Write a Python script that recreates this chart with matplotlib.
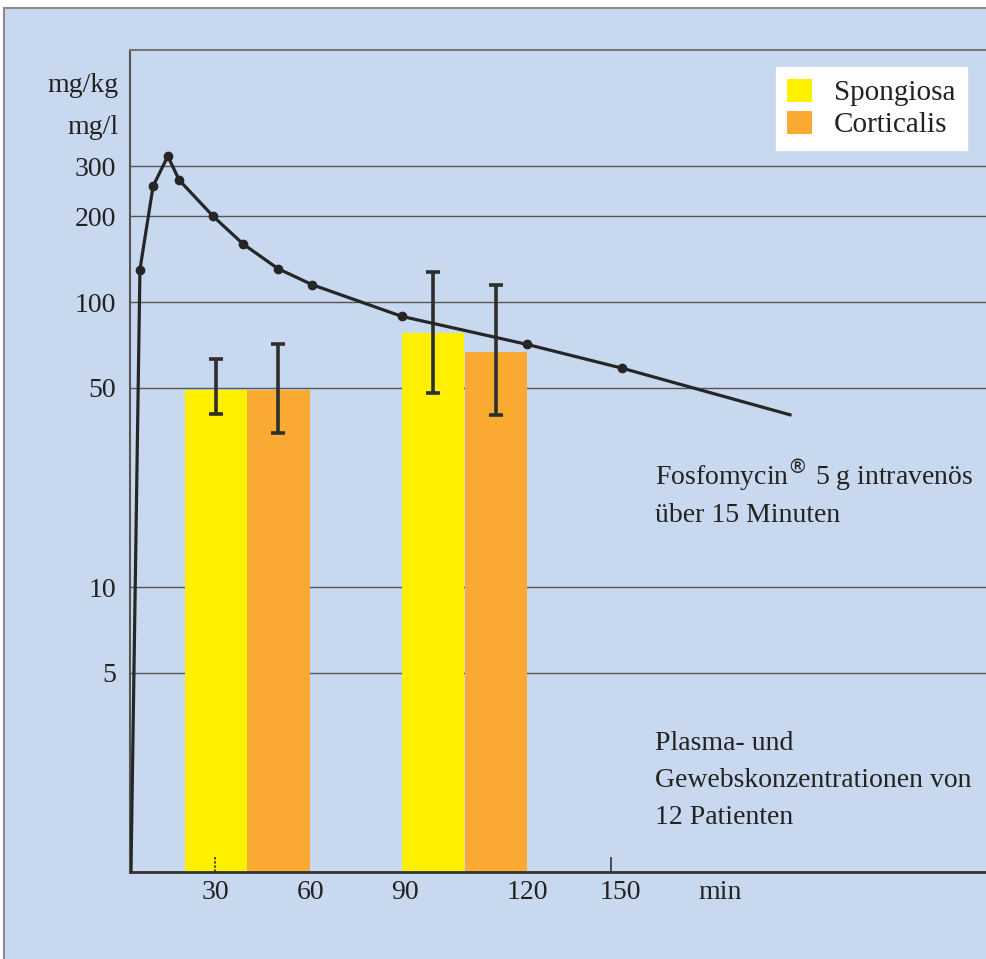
"""Fosfomycin plasma and bone tissue concentrations (log scale)."""
import matplotlib
matplotlib.use("Agg")
import matplotlib.pyplot as plt
from matplotlib.patches import Rectangle, Patch
from matplotlib.ticker import NullLocator

# plasma curve (minutes, mg/l)
plasma_t = [0.3, 3.1, 7.2, 11.8, 15.3, 25.9, 35.2, 46.1, 56.8, 84.8, 123.8, 153.4]
plasma_c = [1.0, 130, 255, 325, 268, 200, 160, 131, 115, 89, 71, 58.6]
tail_t = [153.4, 205.8]
tail_c = [58.6, 40.2]

# tissue concentrations (mg/kg)
bar_labels = ["Spongiosa", "Corticalis"]
spong_t = [26.8, 94.6]
spong_c = [49, 77.8]
spong_lo = [40.5, 48]
spong_hi = [63, 127.4]
cort_t = [46.3, 114.1]
cort_c = [49, 66.8]
cort_lo = [34.7, 40.2]
cort_hi = [71.2, 114.7]
bar_w = 19.4

yticks = [5, 10, 50, 100, 200, 300]
xtick_pos = [26.5, 56.4, 85.7, 123.8, 152.8, 184.0]
xtick_lab = ["30", "60", "90", "120", "150", "min"]
xmarks = [26.5, 150]

note1 = ["Fosfomycin$^{\\circledR}$ 5 g intravenös", "über 15 Minuten"]
note2 = ["Plasma- und", "Gewebskonzentrationen von", "12 Patienten"]

BG = "#C8D8EE"
YEL = "#FFF000"
ORA = "#FAAA32"
INK = "#262626"
TXT = "#222222"
FS = 20

plt.rcParams["font.family"] = ["Liberation Serif", "DejaVu Serif"]

W, H = 986, 959
fig = plt.figure(figsize=(W / 100, H / 100), dpi=100)
fig.patch.set_facecolor("white")
fig.patches.append(Rectangle((4 / W, -0.01), 1.05, (H - 8) / H + 0.01, transform=fig.transFigure,
                             facecolor=BG, edgecolor="#8a8a8a", lw=1.5, zorder=-5))

ax = fig.add_axes([130 / W, (H - 872) / H, 1.05, (872 - 50) / H])
ax.set_facecolor("none")
ax.set_yscale("log")
ax.set_ylim(1, 766)
ax.set_xlim(0, 1.05 * W / 3.207)

ax.bar(spong_t, spong_c, width=bar_w, color=YEL, zorder=2)
ax.bar(cort_t, cort_c, width=bar_w, color=ORA, zorder=2)
ax.errorbar(spong_t, spong_c,
            yerr=[[c - l for c, l in zip(spong_c, spong_lo)], [h - c for c, h in zip(spong_c, spong_hi)]],
            fmt="none", ecolor="#2e2e2e", elinewidth=2.6, capsize=5, capthick=2.6, zorder=3)
ax.errorbar(cort_t, cort_c,
            yerr=[[c - l for c, l in zip(cort_c, cort_lo)], [h - c for c, h in zip(cort_c, cort_hi)]],
            fmt="none", ecolor="#2e2e2e", elinewidth=2.6, capsize=5, capthick=2.6, zorder=3)

ax.plot(tail_t, tail_c, color=INK, lw=2.3, zorder=4)
ax.plot(plasma_t[1:], plasma_c[1:], color=INK, lw=2.3, marker="o", ms=6, zorder=4)
ax.plot(plasma_t[:2], plasma_c[:2], color=INK, lw=2.3, zorder=4)

for y in yticks:
    ax.axhline(y, color="#555555", lw=1, zorder=1)

ax.yaxis.set_minor_locator(NullLocator())
ax.set_yticks(yticks)
ax.set_yticklabels([str(v) for v in yticks], fontsize=FS, color=TXT)
ax.tick_params(axis="y", length=0, pad=10)
ax.set_xticks(xtick_pos)
ax.set_xticklabels(xtick_lab, fontsize=FS, color=TXT)
ax.tick_params(axis="x", length=0, pad=6)
ax.vlines(xmarks[0], 1, 1.13, color="#333333", lw=1.2, linestyles=(0, (1.5, 1)), zorder=3)
ax.vlines(xmarks[1], 1, 1.13, color="#333333", lw=1.2, zorder=3)

ax.spines["right"].set_visible(False)
ax.spines["top"].set_color("#777777")
ax.spines["top"].set_linewidth(1.5)
ax.spines["left"].set_color("#555555")
ax.spines["left"].set_linewidth(1.5)
ax.spines["bottom"].set_color("#333333")
ax.spines["bottom"].set_linewidth(2)

fig.text(118 / W, 1 - 85 / H, "mg/kg", ha="right", va="center", fontsize=FS, color=TXT)
fig.text(118 / W, 1 - 127 / H, "mg/l", ha="right", va="center", fontsize=FS, color=TXT)

for i, line in enumerate(note1):
    fig.text(655 / W, 1 - (485 + 37 * i) / H, line, ha="left", va="baseline", fontsize=FS, color=TXT)
for i, line in enumerate(note2):
    fig.text(655 / W, 1 - (750 + 37 * i) / H, line, ha="left", va="baseline", fontsize=FS, color=TXT)

handles = [Patch(facecolor=YEL, edgecolor="none"), Patch(facecolor=ORA, edgecolor="none")]
leg = fig.legend(handles, bar_labels, loc="upper right", bbox_to_anchor=(967 / W, 1 - 67 / H),
                 fontsize=21, frameon=True, fancybox=False, framealpha=1, facecolor="white",
                 edgecolor="white", handlelength=0.85, handleheight=0.85, handletextpad=0.75,
                 labelspacing=0.15, borderpad=0.4, borderaxespad=0)
for t in leg.get_texts():
    t.set_color(TXT)

fig.savefig("out.png", dpi=100)
